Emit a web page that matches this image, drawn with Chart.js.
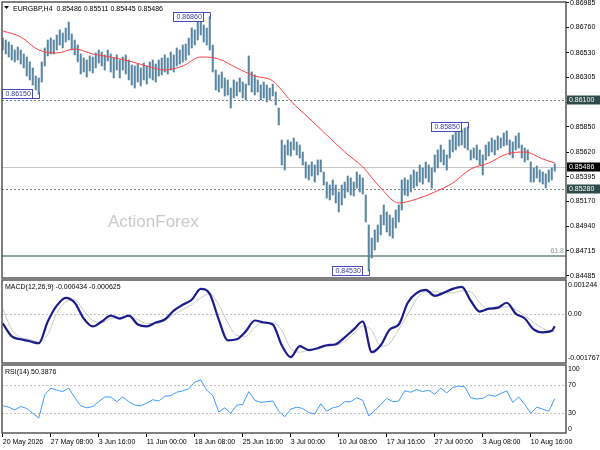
<!DOCTYPE html>
<html>
<head>
<meta charset="utf-8">
<title>EURGBP H4</title>
<script src="https://cdn.jsdelivr.net/npm/chart.js@4.4.1/dist/chart.umd.min.js"></script>
<style>
  html, body { margin: 0; padding: 0; background: #fff; }
  #wrap { position: relative; width: 600px; height: 450px; overflow: hidden; }
  canvas { position: absolute; left: 0; }
</style>
</head>
<body>
<div id="wrap">
  <canvas id="mainChart" width="600" height="279" style="top:0"></canvas>
  <canvas id="macdChart" width="600" height="85" style="top:279px"></canvas>
  <canvas id="rsiChart" width="600" height="86" style="top:364px"></canvas>
</div>
<script>
const symbol = "EURGBP,H4";
const lastQuote = [0.85486, 0.85511, 0.85445, 0.85486];

// H4 bars, x is the bar number; one bar drawn every 2 periods
const barHighs = [
  0.86664, 0.86646, 0.86628, 0.86600, 0.86554, 0.86582, 0.86554, 0.86518, 0.86490, 0.86445,
  0.86390, 0.86316, 0.86298, 0.86445, 0.86573, 0.86646, 0.86664, 0.86646, 0.86692, 0.86738,
  0.86710, 0.86756, 0.86811, 0.86701, 0.86646, 0.86600, 0.86518, 0.86481, 0.86463, 0.86500,
  0.86490, 0.86527, 0.86554, 0.86536, 0.86509, 0.86554, 0.86518, 0.86481, 0.86509, 0.86463,
  0.86490, 0.86509, 0.86463, 0.86417, 0.86408, 0.86426, 0.86390, 0.86435, 0.86408, 0.86445,
  0.86463, 0.86426, 0.86463, 0.86481, 0.86509, 0.86481, 0.86536, 0.86509, 0.86573, 0.86554,
  0.86600, 0.86609, 0.86664, 0.86756, 0.86738, 0.86811, 0.86847, 0.86784, 0.86756, 0.86860,
  0.86600, 0.86371, 0.86326, 0.86353, 0.86298, 0.86280, 0.86206, 0.86280, 0.86261, 0.86298,
  0.86261, 0.86243, 0.86500, 0.86353, 0.86326, 0.86280, 0.86234, 0.86261, 0.86234, 0.86206,
  0.86243, 0.86170, 0.86023, 0.85730, 0.85684, 0.85730, 0.85712, 0.85748, 0.85712, 0.85684,
  0.85620, 0.85529, 0.85501, 0.85529, 0.85501, 0.85547, 0.85547, 0.85437, 0.85345, 0.85318,
  0.85364, 0.85318, 0.85254, 0.85318, 0.85345, 0.85400, 0.85382, 0.85345, 0.85437, 0.85410,
  0.85382, 0.85226, 0.84952, 0.84832, 0.84906, 0.84952, 0.85043, 0.85135, 0.85071, 0.85043,
  0.85016, 0.85089, 0.85135, 0.85364, 0.85382, 0.85364, 0.85410, 0.85455, 0.85437, 0.85501,
  0.85474, 0.85529, 0.85501, 0.85474, 0.85593, 0.85639, 0.85684, 0.85639, 0.85593, 0.85730,
  0.85776, 0.85803, 0.85822, 0.85822, 0.85840, 0.85850, 0.85639, 0.85657, 0.85684, 0.85639,
  0.85593, 0.85684, 0.85712, 0.85748, 0.85730, 0.85767, 0.85748, 0.85794, 0.85813, 0.85730,
  0.85712, 0.85767, 0.85794, 0.85684, 0.85657, 0.85639, 0.85529, 0.85474, 0.85492, 0.85455,
  0.85437, 0.85419, 0.85455, 0.85474, 0.85511
];
const barLows = [
  0.86554, 0.86518, 0.86490, 0.86463, 0.86445, 0.86463, 0.86426, 0.86390, 0.86316, 0.86280,
  0.86234, 0.86188, 0.86150, 0.86261, 0.86408, 0.86500, 0.86518, 0.86518, 0.86554, 0.86600,
  0.86573, 0.86628, 0.86646, 0.86554, 0.86509, 0.86445, 0.86335, 0.86353, 0.86307, 0.86362,
  0.86344, 0.86390, 0.86435, 0.86408, 0.86371, 0.86454, 0.86353, 0.86298, 0.86371, 0.86298,
  0.86371, 0.86335, 0.86280, 0.86234, 0.86206, 0.86261, 0.86225, 0.86280, 0.86243, 0.86298,
  0.86280, 0.86261, 0.86316, 0.86326, 0.86353, 0.86335, 0.86371, 0.86353, 0.86408, 0.86426,
  0.86445, 0.86463, 0.86509, 0.86573, 0.86600, 0.86646, 0.86692, 0.86628, 0.86600, 0.86554,
  0.86353, 0.86188, 0.86170, 0.86206, 0.86133, 0.86142, 0.86023, 0.86115, 0.86133, 0.86170,
  0.86115, 0.86097, 0.86234, 0.86170, 0.86142, 0.86170, 0.86097, 0.86115, 0.86078, 0.86097,
  0.86133, 0.86051, 0.85868, 0.85501, 0.85455, 0.85593, 0.85584, 0.85639, 0.85593, 0.85565,
  0.85501, 0.85382, 0.85364, 0.85400, 0.85345, 0.85410, 0.85437, 0.85318, 0.85199, 0.85181,
  0.85226, 0.85153, 0.85071, 0.85135, 0.85199, 0.85254, 0.85226, 0.85217, 0.85290, 0.85254,
  0.85235, 0.84979, 0.84530, 0.84649, 0.84723, 0.84796, 0.84860, 0.84952, 0.84887, 0.84851,
  0.84832, 0.84924, 0.84979, 0.85089, 0.85226, 0.85217, 0.85254, 0.85290, 0.85309, 0.85345,
  0.85327, 0.85382, 0.85345, 0.85290, 0.85437, 0.85474, 0.85529, 0.85501, 0.85455, 0.85565,
  0.85620, 0.85639, 0.85675, 0.85684, 0.85657, 0.85639, 0.85547, 0.85565, 0.85547, 0.85501,
  0.85410, 0.85547, 0.85584, 0.85620, 0.85593, 0.85639, 0.85657, 0.85675, 0.85684, 0.85593,
  0.85565, 0.85639, 0.85657, 0.85565, 0.85529, 0.85547, 0.85345, 0.85345, 0.85382, 0.85345,
  0.85327, 0.85290, 0.85345, 0.85364, 0.85445
];

// moving average, read every 12 bars
const maValues = [
  0.86729, 0.86674, 0.86554, 0.86527, 0.86564, 0.86518, 0.86490, 0.86454, 0.86408, 0.86371,
  0.86408, 0.86490, 0.86472, 0.86390, 0.86316, 0.86271, 0.86087, 0.85932, 0.85776, 0.85620,
  0.85483, 0.85290, 0.85153, 0.85190, 0.85254, 0.85336, 0.85464, 0.85519, 0.85602, 0.85620,
  0.85556, 0.85519
];

// MACD(12,26,9), read every 6 bars
const macdValues = [
  -0.000333, -0.000799, -0.000907, -0.000979, -0.001050, -0.000262, 0.000312, 0.000599, 0.000419, -0.000154,
  -0.000441, -0.000262, -0.000047, -0.000154, -0.000047, -0.000369, -0.000441, -0.000298, -0.000190, 0.000133,
  0.000348, 0.000527, 0.000921, 0.000742, -0.000190, -0.000943, -0.000907, -0.000620, -0.000226, -0.000298,
  -0.000369, -0.001122, -0.001552, -0.001158, -0.001301, -0.001230, -0.001122, -0.001086, -0.000835, -0.000549,
  -0.000262, -0.001373, -0.001122, -0.000549, -0.000369, 0.000419, 0.000778, 0.000886, 0.000670, 0.000778,
  0.000921, 0.000993, 0.000491, 0.000097, 0.000204, 0.000240, 0.000419, 0.000025, -0.000154, -0.000549,
  -0.000656, -0.000600, -0.000434
];
const signalValues = [
  0.000204, -0.000549, -0.000835, -0.000907, -0.001015, -0.000728, 0.000025, 0.000455, 0.000527, 0.000133,
  -0.000226, -0.000298, -0.000154, -0.000118, -0.000082, -0.000190, -0.000333, -0.000333, -0.000226, -0.000011,
  0.000168, 0.000348, 0.000599, 0.000742, 0.000348, -0.000298, -0.000764, -0.000799, -0.000477, -0.000298,
  -0.000298, -0.000584, -0.001230, -0.001373, -0.001301, -0.001230, -0.001158, -0.001122, -0.000979, -0.000692,
  -0.000441, -0.000584, -0.001158, -0.001050, -0.000549, -0.000011, 0.000563, 0.000814, 0.000814, 0.000778,
  0.000778, 0.000850, 0.000814, 0.000419, 0.000168, 0.000204, 0.000276, 0.000168, -0.000047, -0.000298,
  -0.000513, -0.000620, -0.000625
];

// RSI(14), read every 4 bars
const rsiValues = [
  40, 38, 34, 39, 36, 29, 22, 56, 66, 63,
  61, 66, 52, 40, 37, 39, 46, 53, 53, 46,
  53, 46, 41, 40, 44, 49, 47, 54, 55, 60,
  62, 65, 75, 78, 63, 55, 31, 37, 29, 41,
  42, 61, 48, 45, 46, 47, 32, 24, 35, 38,
  36, 30, 28, 43, 32, 37, 39, 46, 46, 52,
  48, 25, 33, 42, 51, 46, 47, 62, 60, 64,
  61, 63, 57, 66, 59, 67, 69, 68, 52, 50,
  51, 56, 54, 58, 62, 45, 53, 42, 29, 38,
  35, 32, 50.3876
];

const priceTicks = [0.86985, 0.86760, 0.86530, 0.86305, 0.86075, 0.85850, 0.85620, 0.85395, 0.85170, 0.84940, 0.84715, 0.84485];
const macdTicks = [0.001244, 0, -0.001767];
const macdTickLabels = ["0.001244", "0.00", "-0.001767"];
const rsiTicks = [100, 70, 30, 0];
const rsiLevels = [70, 30];
const timeTicks = [0, 32, 64, 96, 128, 160, 192, 224, 256, 288, 320, 352];
const timeLabels = ["20 May 2026", "27 May 08:00", "3 Jun 16:00", "11 Jun 00:00", "18 Jun 08:00", "25 Jun 16:00",
  "3 Jul 00:00", "10 Jul 08:00", "17 Jul 16:00", "27 Jul 00:00", "3 Aug 08:00", "10 Aug 16:00"];

const markedLevels = [0.86100, 0.85280];
const lastPrice = 0.85486;
const fibLevel = 0.84668;
const fibText = "61.8";
const swingBars = [24, 138, 244, 310];
const swingPrices = [0.86150, 0.86860, 0.84530, 0.85850];
const swingKinds = ["low", "high", "low", "high"];

const lastBar = 368;
const FONT_FAMILY = "'Liberation Sans', Arial, sans-serif";
const AXIS_FONT = "7px " + FONT_FAMILY;

function toPoints(values, step) {
  return values.map((v, i) => ({ x: Math.min(i * step, lastBar), y: v }));
}

const xRange = { type: "linear", min: -0.5, max: 375.5, offset: false };

Chart.register({
  id: "panelFrame",
  afterDraw: function (chart) {
    const ctx = chart.ctx;
    const a = chart.chartArea;
    ctx.save();
    ctx.strokeStyle = "#555";
    ctx.lineWidth = 1.5;
    ctx.strokeRect(a.left, a.top, a.right - a.left, a.bottom - a.top);
    ctx.restore();
  },
});

function dashedLevel(chart, value, color) {
  const ctx = chart.ctx;
  const a = chart.chartArea;
  const y = Math.round(chart.scales.y.getPixelForValue(value)) + 0.5;
  ctx.save();
  ctx.strokeStyle = color;
  ctx.lineWidth = 1;
  ctx.setLineDash([2, 2]);
  ctx.beginPath();
  ctx.moveTo(a.left, y);
  ctx.lineTo(a.right, y);
  ctx.stroke();
  ctx.restore();
}

function rightLabel(chart, text, value, pad) {
  const ctx = chart.ctx;
  const a = chart.chartArea;
  let y = chart.scales.y.getPixelForValue(value);
  y = Math.min(Math.max(y, a.top + pad), a.bottom - pad);
  ctx.fillText(text, a.right + 2, y);
}

// ---- main price panel ----
const mainDecor = {
  id: "mainDecor",
  beforeDatasetsDraw: function (chart) {
    const ctx = chart.ctx;
    const a = chart.chartArea;
    const ys = chart.scales.y;
    ctx.save();
    ctx.font = "17px " + FONT_FAMILY;
    ctx.fillStyle = "#c9c9c9";
    ctx.textBaseline = "alphabetic";
    ctx.fillText("ActionForex", a.left + 106, 227);

    let y = Math.round(ys.getPixelForValue(lastPrice)) + 0.5;
    ctx.strokeStyle = "#c8c8c8";
    ctx.lineWidth = 1;
    ctx.beginPath();
    ctx.moveTo(a.left, y);
    ctx.lineTo(a.right, y);
    ctx.stroke();

    y = Math.round(ys.getPixelForValue(fibLevel));
    ctx.strokeStyle = "#8fa3a3";
    ctx.lineWidth = 2;
    ctx.beginPath();
    ctx.moveTo(a.left, y);
    ctx.lineTo(a.right, y);
    ctx.stroke();
    ctx.restore();

    markedLevels.forEach((v) => dashedLevel(chart, v, "#6f8686"));
  },
  afterDatasetsDraw: function (chart) {
    const ctx = chart.ctx;
    const a = chart.chartArea;
    const xs = chart.scales.x;
    const ys = chart.scales.y;
    ctx.save();
    ctx.font = AXIS_FONT;
    ctx.textBaseline = "middle";

    ctx.fillStyle = "#8a9a9a";
    ctx.textAlign = "right";
    ctx.fillText(fibText, a.right - 2, ys.getPixelForValue(fibLevel) - 5);
    ctx.textAlign = "left";

    swingBars.forEach((bar, i) => {
      const price = swingPrices[i];
      const px = Math.round(xs.getPixelForValue(bar)) + 0.5;
      const py = Math.round(ys.getPixelForValue(price));
      const text = price.toFixed(5);
      const w = Math.round(ctx.measureText(text).width) + 5;
      const right = px - 7;
      const left = right - w;
      const top = py - 4.5;
      const bottom = top + 9;
      ctx.fillStyle = "#fff";
      ctx.fillRect(left, top, w, 9);
      ctx.strokeStyle = "#4b4bc0";
      ctx.lineWidth = 1;
      ctx.strokeRect(left, top, w, 9);
      ctx.beginPath();
      if (swingKinds[i] === "high") {
        ctx.moveTo(right, top);
        ctx.lineTo(px, top);
        ctx.lineTo(px, top + 6);
      } else {
        ctx.moveTo(right, bottom);
        ctx.lineTo(px, bottom);
        ctx.lineTo(px, bottom - 6);
      }
      ctx.stroke();
      ctx.fillStyle = "#3a3aa0";
      ctx.fillText(text, left + 3, py + 0.5);
    });
    ctx.restore();
  },
  afterDraw: function (chart) {
    const ctx = chart.ctx;
    const a = chart.chartArea;
    const ys = chart.scales.y;
    ctx.save();
    ctx.font = AXIS_FONT;
    ctx.textBaseline = "middle";
    const boxes = markedLevels.map((v) => [v, "#2f4a4a"]).concat([[lastPrice, "#000"]]);
    boxes.forEach(([v, bg]) => {
      const y = Math.round(ys.getPixelForValue(v));
      ctx.fillStyle = bg;
      ctx.fillRect(a.right + 1, y - 4.5, chart.width - a.right - 1, 9);
      ctx.fillStyle = "#fff";
      ctx.fillText(v.toFixed(5), a.right + 3, y + 0.5);
    });

    // header
    ctx.fillStyle = "#000";
    ctx.beginPath();
    ctx.moveTo(4, 6);
    ctx.lineTo(9, 6);
    ctx.lineTo(6.5, 9);
    ctx.closePath();
    ctx.fill();
    ctx.textBaseline = "alphabetic";
    ctx.fillText(symbol + "  " + lastQuote.map((q) => q.toFixed(5)).join(" "), 13, 10.5);
    ctx.restore();
  },
};

new Chart(document.getElementById("mainChart"), {
  type: "line",
  data: {
    datasets: [
      {
        type: "bar",
        data: barHighs.map((h, k) => ({ x: Math.min(k * 2, lastBar), y: [barLows[k], h] })),
        backgroundColor: "#5a86a2",
        barThickness: 1.4,
        grouped: false,
        order: 2,
      },
      {
        type: "line",
        data: toPoints(maValues, 12),
        borderColor: "#ff4040",
        borderWidth: 1,
        pointRadius: 0,
        cubicInterpolationMode: "monotone",
        order: 1,
      },
    ],
  },
  options: {
    responsive: false,
    animation: false,
    devicePixelRatio: 1,
    events: [],
    layout: { padding: { left: 2, right: 0, top: 2, bottom: 1 } },
    plugins: { legend: { display: false }, tooltip: { enabled: false } },
    scales: {
      x: Object.assign({ display: false }, xRange),
      y: {
        position: "right",
        min: 0.84466,
        max: 0.86994,
        beginAtZero: false,
        afterBuildTicks: function (scale) {
          scale.ticks = priceTicks.map((v) => ({ value: v }));
        },
        afterFit: function (scale) {
          scale.width = 34;
          scale.paddingTop = 0;
          scale.paddingBottom = 0;
        },
        ticks: {
          autoSkip: false,
          padding: 1,
          color: "#000",
          font: { family: FONT_FAMILY, size: 7 },
          callback: (v) => Number(v).toFixed(5),
        },
        grid: { drawOnChartArea: false, drawTicks: true, tickLength: 3, color: "#000" },
        border: { display: false },
      },
    },
  },
  plugins: [mainDecor],
});

// ---- MACD panel ----
const macdDecor = {
  id: "macdDecor",
  beforeDatasetsDraw: function (chart) {
    dashedLevel(chart, 0, "#c0c0c0");
  },
  afterDraw: function (chart) {
    const ctx = chart.ctx;
    ctx.save();
    ctx.font = AXIS_FONT;
    ctx.fillStyle = "#000";
    ctx.textBaseline = "middle";
    macdTicks.forEach((v, i) => rightLabel(chart, macdTickLabels[i], v, 5));
    ctx.textBaseline = "alphabetic";
    const last = macdValues.length - 1;
    ctx.fillText("MACD(12,26,9) " + macdValues[last].toFixed(6) + " " + signalValues[last].toFixed(6), 5, 10);
    ctx.restore();
  },
};

new Chart(document.getElementById("macdChart"), {
  type: "line",
  data: {
    datasets: [
      {
        data: toPoints(macdValues, 6),
        borderColor: "#1c1c8c",
        borderWidth: 2.2,
        pointRadius: 0,
        cubicInterpolationMode: "monotone",
        order: 1,
      },
      {
        data: toPoints(signalValues, 6),
        borderColor: "#c8c8c8",
        borderWidth: 1,
        pointRadius: 0,
        cubicInterpolationMode: "monotone",
        order: 2,
      },
    ],
  },
  options: {
    responsive: false,
    animation: false,
    devicePixelRatio: 1,
    events: [],
    layout: { padding: { left: 2, right: 34, top: 1, bottom: 1 } },
    plugins: { legend: { display: false }, tooltip: { enabled: false } },
    scales: {
      x: Object.assign({ display: false }, xRange),
      y: { display: false, min: -0.001767, max: 0.001244 },
    },
  },
  plugins: [macdDecor],
});

// ---- RSI panel ----
const rsiDecor = {
  id: "rsiDecor",
  beforeDatasetsDraw: function (chart) {
    rsiLevels.forEach((v) => dashedLevel(chart, v, "#c0c0c0"));
  },
  afterDraw: function (chart) {
    const ctx = chart.ctx;
    ctx.save();
    ctx.font = AXIS_FONT;
    ctx.fillStyle = "#000";
    ctx.textBaseline = "middle";
    rsiTicks.forEach((v) => rightLabel(chart, String(v), v, 4));
    ctx.textBaseline = "alphabetic";
    ctx.fillText("RSI(14) " + rsiValues[rsiValues.length - 1].toFixed(4), 5, 10);
    ctx.restore();
  },
};

new Chart(document.getElementById("rsiChart"), {
  type: "line",
  data: {
    datasets: [
      {
        data: toPoints(rsiValues, 4),
        borderColor: "#3d9bff",
        borderWidth: 1,
        pointRadius: 0,
        tension: 0,
      },
    ],
  },
  options: {
    responsive: false,
    animation: false,
    devicePixelRatio: 1,
    events: [],
    layout: { padding: { left: 2, right: 34, top: 1, bottom: 0 } },
    plugins: { legend: { display: false }, tooltip: { enabled: false } },
    scales: {
      x: Object.assign({
        display: true,
        position: "bottom",
        afterBuildTicks: function (scale) {
          scale.ticks = timeTicks.map((v) => ({ value: v }));
        },
        afterFit: function (scale) {
          scale.height = 17;
          scale.paddingLeft = 0;
          scale.paddingRight = 0;
        },
        ticks: {
          autoSkip: false,
          maxRotation: 0,
          align: "start",
          padding: 1,
          color: "#000",
          font: { family: FONT_FAMILY, size: 7 },
          callback: (v) => timeLabels[timeTicks.indexOf(v)],
        },
        grid: { drawOnChartArea: false, drawTicks: true, tickLength: 4, color: "#000" },
        border: { display: false },
      }, xRange),
      y: { display: false, min: 0, max: 100 },
    },
  },
  plugins: [rsiDecor],
});
</script>
</body>
</html>
